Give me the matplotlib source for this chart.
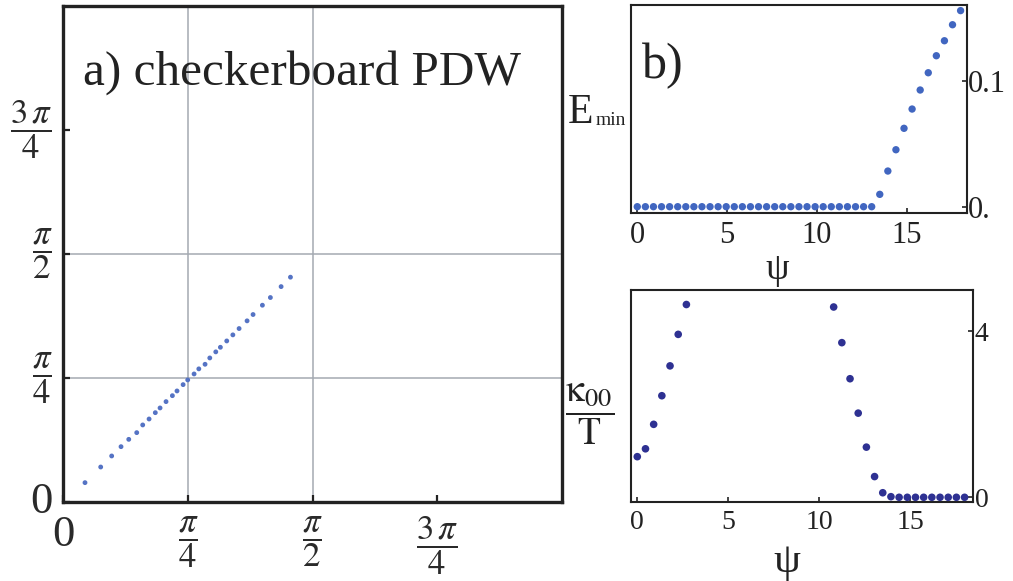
import numpy as np
import matplotlib
matplotlib.use("Agg")
import matplotlib.pyplot as plt

plt.rcParams['font.family'] = ['Liberation Serif', 'DejaVu Serif']
plt.rcParams['mathtext.fontset'] = 'stix'

# ---------------- data ----------------
# panel a: points in units of pi/4
a_x_pi4 = [0.174, 0.300, 0.388, 0.463, 0.525, 0.589, 0.637, 0.688, 0.738, 0.776,
           0.824, 0.875, 0.912, 0.961, 0.998, 1.049, 1.087, 1.137, 1.175, 1.223,
           1.260, 1.311, 1.360, 1.410, 1.474, 1.522, 1.597, 1.661, 1.747, 1.822]
a_y_pi4 = [0.156, 0.282, 0.371, 0.446, 0.505, 0.559, 0.621, 0.669, 0.720, 0.758,
           0.809, 0.857, 0.895, 0.946, 0.984, 1.032, 1.073, 1.110, 1.161, 1.210,
           1.247, 1.298, 1.347, 1.398, 1.460, 1.511, 1.586, 1.648, 1.736, 1.812]
a_tick_vals_pi4 = [0, 1, 2, 3]
a_tick_labels = ['0', r'$\dfrac{\pi}{4}$', r'$\dfrac{\pi}{2}$', r'$\dfrac{3\,\pi}{4}$']
a_grid_pi4 = [1, 2]

# panel b
psi_b = [0, 0.45, 0.9, 1.35, 1.8, 2.25, 2.7, 3.15, 3.6, 4.05, 4.5, 4.95, 5.4, 5.85,
         6.3, 6.75, 7.2, 7.65, 8.1, 8.55, 9.0, 9.45, 9.9, 10.35, 10.8, 11.25, 11.7,
         12.15, 12.6, 13.05, 13.5, 13.95, 14.4, 14.85, 15.3, 15.75, 16.2, 16.65,
         17.1, 17.55, 18.0]
emin = [0, 0, 0, 0, 0, 0, 0, 0, 0, 0, 0, 0, 0, 0, 0, 0, 0, 0, 0, 0, 0, 0, 0, 0, 0,
        0, 0, 0, 0, 0, 0.0098, 0.0283, 0.0452, 0.0622, 0.0775, 0.0926, 0.1063,
        0.1198, 0.1317, 0.1444, 0.1556]
b_xticks = [0, 5, 10, 15]
b_yticks = [0, 0.1]
b_ytick_labels = ['0.', '0.1']

# panel c
psi_c = [0, 0.45, 0.9, 1.35, 1.8, 2.25, 2.7,
         10.8, 11.25, 11.7, 12.15, 12.6, 13.05, 13.5, 13.95, 14.4, 14.85, 15.3,
         15.75, 16.2, 16.65, 17.1, 17.55, 18.0]
kappa = [0.98, 1.17, 1.76, 2.45, 3.17, 3.93, 4.65,
         4.59, 3.73, 2.86, 2.03, 1.21, 0.50, 0.11, 0.015, 0, 0, 0, 0, 0, 0, 0, 0, 0]
c_xticks = [0, 5, 10, 15]
c_yticks = [0, 4]

W, H = 1013, 581
fig = plt.figure(figsize=(W / 100, H / 100), dpi=100)

def rect(l, t, r, b):
    return [l / W, 1 - b / H, (r - l) / W, (b - t) / H]

# ---------------- panel a ----------------
q = np.pi / 4
axa = fig.add_axes(rect(63.3, 5.7, 562, 502))
axa.set_xlim(0, np.pi)
axa.set_ylim(0, np.pi)
for g in a_grid_pi4:
    axa.axvline(g * q, color='#a4aab2', lw=1.1, zorder=1)
    axa.axhline(g * q, color='#a4aab2', lw=1.1, zorder=1)
axa.scatter(np.array(a_x_pi4) * q, np.array(a_y_pi4) * q, s=12, color='#5573c4',
            edgecolors='none', zorder=3)
for sp in axa.spines.values():
    sp.set_linewidth(2.4)
    sp.set_color('#222222')
ticks = np.array(a_tick_vals_pi4) * q
axa.set_xticks(ticks)
axa.set_yticks(ticks)
axa.set_xticklabels(a_tick_labels)
axa.set_yticklabels(a_tick_labels)
axa.tick_params(direction='in', length=5, width=1.6, color='#222222',
                labelsize=25, labelcolor='#2a2a2a')
axa.tick_params(axis='x', pad=9)
axa.tick_params(axis='y', pad=8)
for lab in axa.get_yticklabels():
    lab.set_va('center')
for lab in axa.get_xticklabels()[:1] + axa.get_yticklabels()[:1]:
    lab.set_fontsize(32)
axa.text(83 / W, 1 - 85 / H, 'a) checkerboard PDW', transform=fig.transFigure,
         fontsize=35.5, color='#222222', ha='left', va='baseline')

# ---------------- panel b ----------------
axb = fig.add_axes(rect(630.7, 4.7, 966.7, 213))
axb.scatter(psi_b, emin, s=28, color='#4166c0', edgecolors='none', zorder=3,
            clip_on=False)
axb.set_xlim(-0.367, 18.34)
axb.set_ylim(-0.005, 0.1603)
axb.set_xticks(b_xticks)
axb.set_yticks(b_yticks)
axb.set_yticklabels(b_ytick_labels)
axb.yaxis.tick_right()
axb.tick_params(direction='in', length=3.5, width=1.2, color='#222222',
                labelsize=22, labelcolor='#222222')
axb.tick_params(axis='x', pad=6)
axb.tick_params(axis='y', pad=1)
for sp in axb.spines.values():
    sp.set_linewidth(1.5)
    sp.set_color('#222222')
axb.set_xlabel('ψ', fontsize=27, color='#222222')
axb.xaxis.set_label_coords(0.435, -0.19)
axb.xaxis.label.set_va('top')
fig.text(642 / W, 1 - 78 / H, 'b)', fontsize=36, color='#222222',
         ha='left', va='baseline')
fig.text(568 / W, 1 - 123 / H, 'E', fontsize=30, color='#222222',
         ha='left', va='baseline')
fig.text(596 / W, 1 - 125 / H, 'min', fontsize=14, color='#222222',
         ha='left', va='baseline')

# ---------------- panel c ----------------
axc = fig.add_axes(rect(630.7, 290, 973.3, 501.7))
axc.scatter(psi_c, kappa, s=30, color='#2e3192', edgecolors='none', zorder=3,
            clip_on=False)
axc.set_xlim(-0.363, 18.48)
axc.set_ylim(-0.106, 5.0)
axc.set_xticks(c_xticks)
axc.set_yticks(c_yticks)
axc.yaxis.tick_right()
axc.tick_params(direction='in', length=3.5, width=1.2, color='#222222',
                labelsize=20, labelcolor='#222222')
axc.tick_params(axis='x', pad=6)
axc.tick_params(axis='y', pad=1)
for sp in axc.spines.values():
    sp.set_linewidth(1.5)
    sp.set_color('#222222')
axc.set_xlabel('ψ', fontsize=31, color='#222222')
axc.xaxis.set_label_coords(0.456, -0.195)
axc.xaxis.label.set_va('top')
fig.text(590 / W, 1 - 414 / H, r'$\dfrac{\mathrm{\kappa}_{00}}{\mathrm{T}}$',
         fontsize=27, color='#222222', ha='center', va='center')

fig.savefig('out.png', dpi=100)
